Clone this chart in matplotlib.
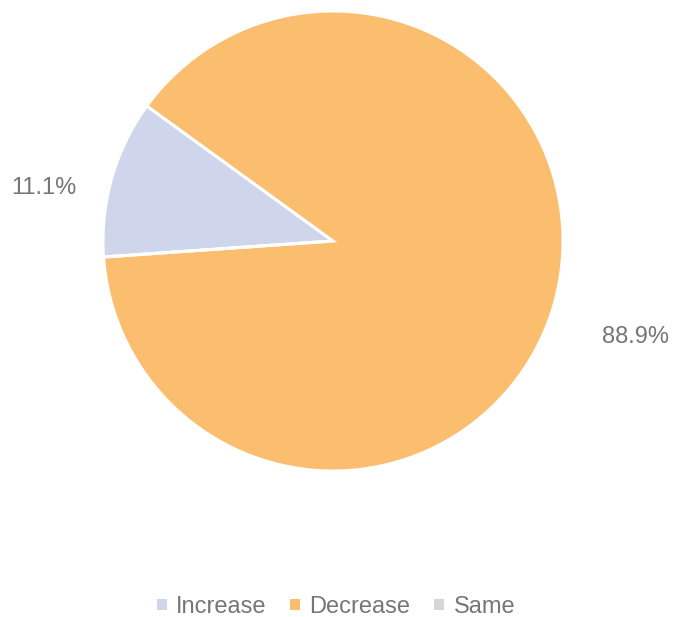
import matplotlib.pyplot as plt
import numpy as np

plt.rcParams['font.family'] = ['Liberation Sans', 'DejaVu Sans']

categories = ['Increase', 'Decrease', 'Same']
values = [11.1, 88.9, 0.0]
colors = ['#CFD5EA', '#FBBE6F', '#D6D6D6']
text_color = '#767676'

W, H = 673, 617
fig = plt.figure(figsize=(W / 100, H / 100), dpi=100)

# pie centre and radius in pixels
cx, cy, r = 333, 241, 230
ax = fig.add_axes([(cx - r) / W, (H - cy - r) / H, 2 * r / W, 2 * r / H])

wedges, texts, autotexts = ax.pie(
    values, colors=colors, startangle=184, counterclock=False,
    autopct=lambda p: f'{p:.1f}%' if p > 0 else '',
    pctdistance=1.3, textprops=dict(color=text_color, fontsize=17),
    wedgeprops=dict(edgecolor='white', linewidth=2.2),
)
ax.set_xlim(-1, 1)
ax.set_ylim(-1, 1)
ax.set_aspect('equal')

# best-fit style label placement (radius, angle in degrees)
label_pos = [(1.28, 169.6), (1.38, -17.6), None]
for t, pos in zip(autotexts, label_pos):
    if pos is None:
        continue
    rad, ang = pos
    t.set_position((rad * np.cos(np.radians(ang)), rad * np.sin(np.radians(ang))))
    t.set_ha('center')
    t.set_va('center')

leg = fig.legend(wedges, categories, loc='center', bbox_to_anchor=(336 / W, 1 - 607 / H),
                 ncol=3, frameon=False, fontsize=17, handlelength=0.42, handleheight=0.3,
                 handletextpad=0.4, columnspacing=1.0, labelcolor=text_color)
for h in leg.legend_handles:
    h.set_linewidth(0)

fig.savefig('out.png', dpi=100)
